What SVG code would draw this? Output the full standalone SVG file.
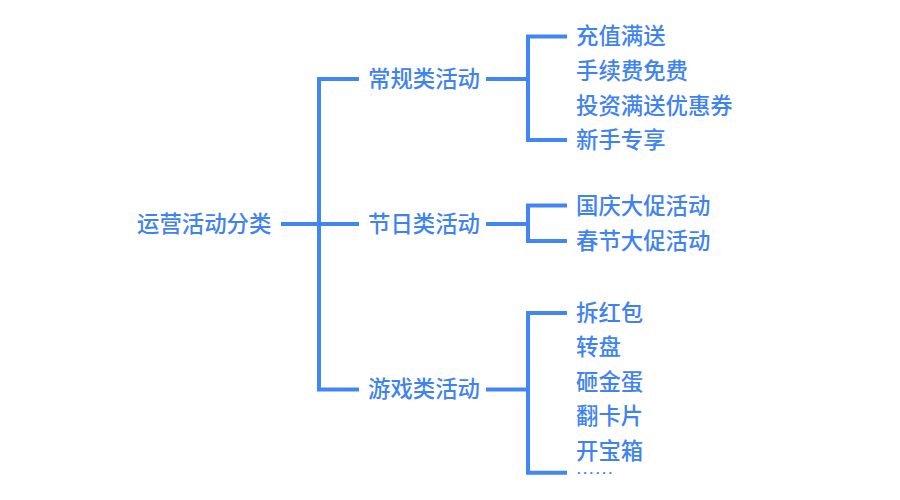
<svg xmlns="http://www.w3.org/2000/svg" width="900" height="500" viewBox="0 0 900 500">
<style>
.t{font-family:"Noto Sans CJK SC","Noto Sans",sans-serif;font-size:22.4px;font-weight:500;fill:#3F83F2;dominant-baseline:central}
.c{fill:none;stroke:#4285F4;stroke-width:4;stroke-linecap:butt;stroke-linejoin:miter}
</style>
<rect width="900" height="500" fill="#ffffff"/>
<g id="connectors" class="c">
<path d="M281 224H359"/>
<path d="M359 79H319V389.5H359"/>
<path d="M486 79H528"/>
<path d="M567 36.5H528V140H567"/>
<path d="M486 224H528"/>
<path d="M567 205.5H528V241H567"/>
<path d="M486 389.5H528"/>
<path d="M567 313H528V472.7H567"/>
</g>
<g id="root"><text class="t" x="137" y="221.5">运营活动分类</text></g>
<g id="regular"><text class="t" x="368" y="76.5">常规类活动</text></g>
<g id="holiday"><text class="t" x="368" y="221.5">节日类活动</text></g>
<g id="game"><text class="t" x="368" y="387">游戏类活动</text></g>
<g id="r1"><text class="t" x="576" y="34">充值满送</text></g>
<g id="r2"><text class="t" x="576" y="68.5">手续费免费</text></g>
<g id="r3"><text class="t" x="576" y="103.5">投资满送优惠券</text></g>
<g id="r4"><text class="t" x="576" y="137.5">新手专享</text></g>
<g id="h1"><text class="t" x="576" y="203.5">国庆大促活动</text></g>
<g id="h2"><text class="t" x="576" y="238.5">春节大促活动</text></g>
<g id="g1"><text class="t" x="576" y="310.5">拆红包</text></g>
<g id="g2"><text class="t" x="576" y="345">转盘</text></g>
<g id="g3"><text class="t" x="576" y="379.5">砸金蛋</text></g>
<g id="g4"><text class="t" x="576" y="414">翻卡片</text></g>
<g id="g5"><text class="t" x="576" y="448.5">开宝箱</text></g>
<g id="g6"><text x="577" y="474.3" style="font-family:'Liberation Sans',sans-serif;font-size:13px;letter-spacing:2.7px;font-weight:bold;fill:#3F83F2">......</text></g>
</svg>
